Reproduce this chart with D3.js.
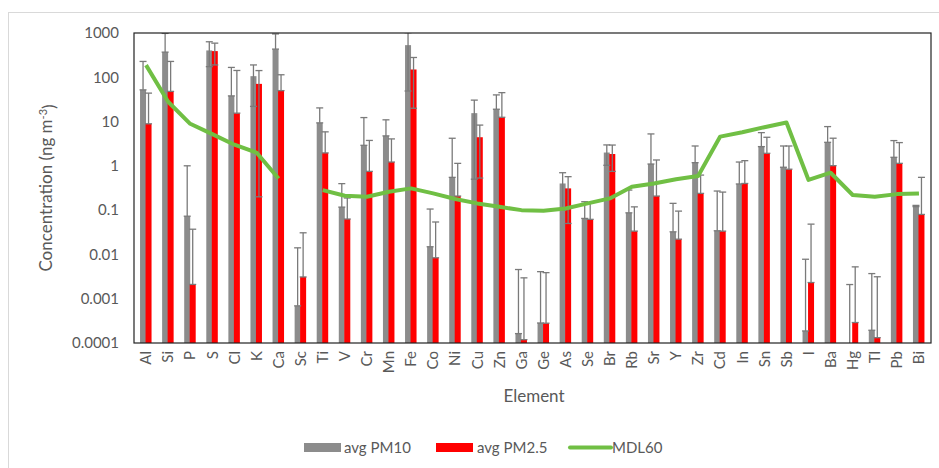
<!DOCTYPE html>
<html>
<head>
<meta charset="utf-8">
<script src="https://cdn.jsdelivr.net/npm/d3@7"></script>
<style>
  body { margin: 0; background: #fff; }
  text { font-family: Lato, "Open Sans", sans-serif; fill: #595959; }
</style>
</head>
<body>
<div class="chart"></div>
<script>
// chart data
var elements = ["Al","Si","P","S","Cl","K","Ca","Sc","Ti","V","Cr","Mn","Fe","Co","Ni","Cu","Zn","Ga",
    "Ge","As","Se","Br","Rb","Sr","Y","Zr","Cd","In","Sn","Sb","I","Ba","Hg","Tl","Pb","Bi"];

var pm10 = [52, 370, 0.073, 404, 38, 106, 433, 0.00069, 9.35, 0.117, 2.91, 4.75, 532, 0.0149, 0.55, 15.5, 19, 0.000163,
    0.000283, 0.40, 0.065, 2.0, 0.087, 1.10, 0.0324, 1.18, 0.0342, 0.39, 2.72, 0.93, 0.000187, 3.4, 0.00009, 0.000194, 1.56, 0.124];
var pm10Sd = [176, 610, 0.93, 230, 129, 84, 520, 0.0134, 11, 0.28, 9.4, 6.2, 483, 0.091, 3.65, 15, 21, 0.0044,
    0.0038, 0.30, 0.09, 0.97, 0.197, 4.16, 0.11, 1.63, 0.236, 0.83, 2.91, 1.88, 0.0076, 4.3, 0.002, 0.0035, 2.16, 0.004];

var pm25 = [8.9, 48, 0.0021, 390, 15.5, 71, 50, 0.0031, 1.96, 0.063, 0.75, 1.22, 150, 0.0084, 0.208, 4.43, 12.5, 0.000119,
    0.00028, 0.31, 0.062, 1.85, 0.0336, 0.208, 0.0221, 0.239, 0.0336, 0.40, 1.92, 0.84, 0.00232, 1.01, 0.00029, 0.000132, 1.14, 0.080];
var pm25Sd = [35, 180, 0.035, 200, 127, 70.8, 64, 0.0277, 3.9, 0.125, 3.0, 2.84, 130, 0.0456, 0.93, 3.9, 32.5, 0.00284,
    0.0036, 0.26, 0.085, 1.1, 0.085, 1.15, 0.073, 0.38, 0.222, 0.91, 2.5, 1.97, 0.046, 3.2, 0.00495, 0.003, 2.21, 0.47];

var mdl60 = [188, 28, 8.9, 5.2, 3.0, 2.0, 0.52, null, 0.284, 0.212, 0.20, 0.26, 0.31, 0.239, 0.178, 0.142, 0.119, 0.10,
    0.097, 0.109, 0.142, 0.184, 0.338, 0.40, 0.50, 0.59, 4.58, 5.74, 7.45, 9.5, 0.48, 0.70, 0.22, 0.20, 0.23, 0.239];

var yTicks = [0.0001, 0.001, 0.01, 0.1, 1, 10, 100, 1000];
var yTickLabels = ["0.0001", "0.001", "0.01", "0.1", "1", "10", "100", "1000"];

var legendNames = ["avg PM10", "avg PM2.5", "MDL60"];

// dimensions
var W = 939, H = 468;
var plot = {left: 134, top: 33, right: 931, bottom: 343};

var gray = "#8c8c8c", red = "#ff0000", green = "#70bf44", errColor = "#7a7a7a";

var svg = d3.select(".chart").append("svg")
    .attr("width", W)
    .attr("height", H);

// outer chart border
svg.append("rect")
    .attr("x", 8.5).attr("y", 12.5)
    .attr("width", W + 20).attr("height", H + 20)
    .attr("fill", "none")
    .attr("stroke", "#d9d9d9");

// scales
var x = d3.scaleBand().domain(elements).range([plot.left + 1, plot.right - 1]);
var y = d3.scaleLog().domain([0.0001, 1000]).range([plot.bottom, plot.top]);

function cx(i) { return x(elements[i]) + x.bandwidth() / 2; }

svg.append("clipPath").attr("id", "clip")
    .append("rect")
    .attr("x", plot.left).attr("y", plot.top)
    .attr("width", plot.right - plot.left).attr("height", plot.bottom - plot.top);

var g = svg.append("g").attr("clip-path", "url(#clip)");

function barTop(v) { return y(Math.max(v, 0.0001)); }

// gray bars (PM10)
g.selectAll(".bar10").data(pm10).enter().append("rect")
    .attr("x", function(d, i) { return cx(i) - 6; })
    .attr("y", function(d) { return barTop(d); })
    .attr("width", 6)
    .attr("height", function(d) { return plot.bottom - barTop(d); })
    .attr("fill", gray);

// red bars (PM2.5)
g.selectAll(".bar25").data(pm25).enter().append("rect")
    .attr("x", function(d, i) { return cx(i) - 0.5; })
    .attr("y", function(d) { return barTop(d); })
    .attr("width", 6)
    .attr("height", function(d) { return plot.bottom - barTop(d); })
    .attr("fill", red);

// error bars; on a log axis the minus part is dropped when it goes below zero
function errorBars(vals, sds, dx) {
    vals.forEach(function(v, i) {
        var hi = v + sds[i];
        var lo = v - sds[i] > 0 ? v - sds[i] : v;
        var xx = cx(i) + dx;
        var y1 = y(Math.max(hi, 0.00005)), y0 = y(Math.max(lo, 0.00005));
        g.append("line")
            .attr("x1", xx).attr("x2", xx)
            .attr("y1", y1).attr("y2", y0)
            .attr("stroke", errColor).attr("stroke-width", 1.3);
        [y1, y0].forEach(function(yy) {
            g.append("line")
                .attr("x1", xx - 3.5).attr("x2", xx + 3.5)
                .attr("y1", yy).attr("y2", yy)
                .attr("stroke", errColor).attr("stroke-width", 1.3);
        });
    });
}
errorBars(pm10, pm10Sd, -3);
errorBars(pm25, pm25Sd, 2.5);

// MDL60 line
var mdlLine = d3.line()
    .defined(function(d) { return d != null; })
    .x(function(d, i) { return cx(i); })
    .y(function(d) { return y(d); });

g.append("path")
    .attr("d", mdlLine(mdl60))
    .attr("fill", "none")
    .attr("stroke", green)
    .attr("stroke-width", 4)
    .attr("stroke-linejoin", "round");

// plot frame
svg.append("rect")
    .attr("x", plot.left).attr("y", plot.top)
    .attr("width", plot.right - plot.left).attr("height", plot.bottom - plot.top)
    .attr("fill", "none")
    .attr("stroke", "#222")
    .attr("stroke-width", 1.2);

// Y axis
var yAxis = d3.axisLeft(y)
    .tickValues(yTicks)
    .tickSize(0)
    .tickPadding(15)
    .tickFormat(function(d, i) { return yTickLabels[i]; });

var yg = svg.append("g")
    .attr("transform", "translate(" + plot.left + ",0)")
    .call(yAxis);
yg.select(".domain").remove();
yg.selectAll("text").style("font-size", "15px").attr("fill", "#595959");

// X axis, rotated labels
var xAxis = d3.axisBottom(x).tickSize(0).tickPadding(0);
var xg = svg.append("g")
    .attr("transform", "translate(0," + plot.bottom + ")")
    .call(xAxis);
xg.select(".domain").remove();
xg.selectAll("text")
    .style("font-size", "15px")
    .attr("fill", "#595959")
    .attr("text-anchor", "end")
    .attr("dy", "0.35em")
    .attr("transform", "translate(0,8) rotate(-90)")
    .attr("x", 0).attr("y", 0);

// axis titles
svg.append("text")
    .text("Element")
    .attr("x", 534).attr("y", 402)
    .attr("text-anchor", "middle")
    .style("font-size", "17px");

var yt = svg.append("text")
    .attr("transform", "translate(52,188) rotate(-90)")
    .attr("text-anchor", "middle")
    .style("font-size", "17px");
yt.append("tspan").text("Concentration (ng m");
yt.append("tspan").text("-3").attr("dy", "-0.45em").style("font-size", "11px");
yt.append("tspan").text(")").attr("dy", "0.45em");

// legend
var legend = svg.append("g");
legend.append("rect").attr("x", 304).attr("y", 443).attr("width", 37).attr("height", 9).attr("fill", gray);
legend.append("text").text(legendNames[0]).attr("x", 344).attr("y", 452.5).style("font-size", "15px");
legend.append("rect").attr("x", 436).attr("y", 443).attr("width", 37).attr("height", 9).attr("fill", red);
legend.append("text").text(legendNames[1]).attr("x", 477).attr("y", 452.5).style("font-size", "15px");
legend.append("line").attr("x1", 570).attr("x2", 611).attr("y1", 447.5).attr("y2", 447.5)
    .attr("stroke", green).attr("stroke-width", 4).attr("stroke-linecap", "round");
legend.append("text").text(legendNames[2]).attr("x", 612).attr("y", 452.5).style("font-size", "15px");
</script>
</body>
</html>
